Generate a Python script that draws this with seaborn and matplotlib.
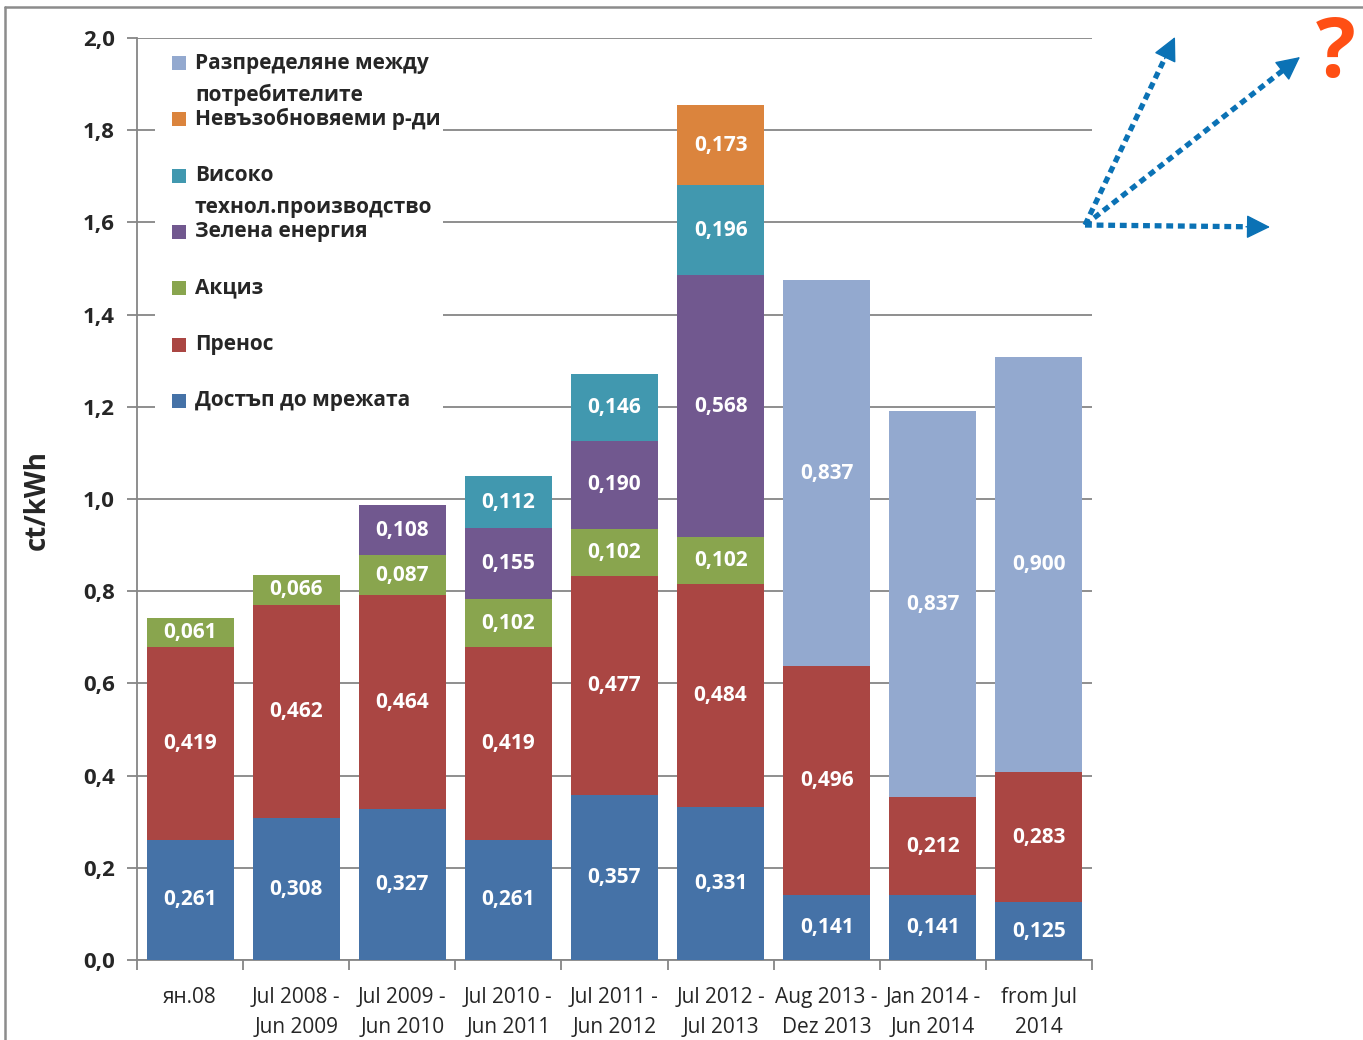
import matplotlib
matplotlib.use("Agg")
import matplotlib.pyplot as plt
from matplotlib.lines import Line2D
from matplotlib.patches import Rectangle
from matplotlib.ticker import FixedLocator, FuncFormatter
import numpy as np
import pandas as pd
import seaborn as sns

# ---- data -------------------------------------------------------------
periods = [
    "ян.08",
    "Jul 2008 -\nJun 2009",
    "Jul 2009 -\nJun 2010",
    "Jul 2010 -\nJun 2011",
    "Jul 2011 -\nJun 2012",
    "Jul 2012 -\nJul 2013",
    "Aug 2013 -\nDez 2013",
    "Jan 2014 -\nJun 2014",
    "from Jul\n2014",
]

grid_access = [0.261, 0.308, 0.327, 0.261, 0.357, 0.331, 0.141, 0.141, 0.125]
transmission = [0.419, 0.462, 0.464, 0.419, 0.477, 0.484, 0.496, 0.212, 0.283]
excise = [0.061, 0.066, 0.087, 0.102, 0.102, 0.102, 0.0, 0.0, 0.0]
green_energy = [0.0, 0.0, 0.108, 0.155, 0.190, 0.568, 0.0, 0.0, 0.0]
high_tech = [0.0, 0.0, 0.0, 0.112, 0.146, 0.196, 0.0, 0.0, 0.0]
non_renewable = [0.0, 0.0, 0.0, 0.0, 0.0, 0.173, 0.0, 0.0, 0.0]
consumer_split = [0.0, 0.0, 0.0, 0.0, 0.0, 0.0, 0.837, 0.837, 0.900]

# stacking order (bottom -> top)
series_names = [
    "Достъп до мрежата",
    "Пренос",
    "Акциз",
    "Зелена енергия",
    "Високо\nтехнол.производство",
    "Невъзобновяеми р-ди",
    "Разпределяне между\nпотребителите",
]
series_values = [grid_access, transmission, excise, green_energy,
                 high_tech, non_renewable, consumer_split]
series_colors = ["#4572A7", "#AA4643", "#89A54E", "#71588F",
                 "#4198AF", "#DB843D", "#93A9CF"]

y_ticks = [0.0, 0.2, 0.4, 0.6, 0.8, 1.0, 1.2, 1.4, 1.6, 1.8, 2.0]

# ---- table -------------------------------------------------------------
df = pd.DataFrame({"period": periods})
cum = np.zeros(len(periods))
cum_cols = []
for k, vals in enumerate(series_values):
    cum = cum + np.array(vals)
    col = f"cum{k}"
    df[col] = cum
    cum_cols.append(col)

# ---- style -------------------------------------------------------------
sns.set_style("white")
plt.rcParams["font.family"] = ["Open Sans", "DejaVu Sans"]

W, H = 1363, 1040
fig = plt.figure(figsize=(W / 100, H / 100), dpi=100)
ax = fig.add_axes([137 / W, 1 - 960 / H, (1092 - 137) / W, (960 - 38) / H])

GRID = "#868686"

# stacked bars: cumulative totals drawn from the top layer down
for col, color in reversed(list(zip(cum_cols, series_colors))):
    sns.barplot(data=df, x="period", y=col, order=periods, color=color,
                saturation=1, width=0.82, errorbar=None, linewidth=0,
                ax=ax, zorder=3)

# value labels
for i in range(len(periods)):
    base = 0.0
    for vals in series_values:
        v = vals[i]
        if v > 0:
            ax.text(i, base + v / 2, f"{v:.3f}".replace(".", ","),
                    ha="center", va="center", color="white",
                    fontsize=15, fontweight="bold", zorder=5)
        base += v

# axes
ax.set_xlim(-0.5, len(periods) - 0.5)
ax.set_ylim(0, 2.0)
ax.set_xlabel("")
ax.set_ylabel("")
for s in ["top", "right"]:
    ax.spines[s].set_visible(False)
for s in ["left", "bottom"]:
    ax.spines[s].set_color(GRID)
    ax.spines[s].set_linewidth(1.3)

ax.yaxis.set_major_locator(FixedLocator(y_ticks))
ax.yaxis.set_major_formatter(FuncFormatter(lambda v, p: f"{v:.1f}".replace(".", ",")))
ax.tick_params(axis="y", which="major", direction="out", length=7, width=1.3,
               color=GRID, pad=9, labelsize=16, left=True)
for lab in ax.get_yticklabels():
    lab.set_fontweight("bold")
ax.yaxis.grid(True, color=GRID, linewidth=1.3, zorder=0)
ax.set_axisbelow(True)

# x: ticks between categories, labels centred on the bars
ax.xaxis.set_major_locator(FixedLocator(np.arange(-0.5, len(periods), 1.0)))
ax.xaxis.set_major_formatter(FuncFormatter(lambda v, p: ""))
ax.xaxis.set_minor_locator(FixedLocator(np.arange(len(periods))))
ax.xaxis.set_minor_formatter(FuncFormatter(lambda v, p: periods[int(round(v))]))
ax.tick_params(axis="x", which="major", direction="out", length=7, width=1.3,
               color=GRID, bottom=True)
ax.tick_params(axis="x", which="minor", length=0, pad=19.5, labelsize=15, bottom=True)
for lab in ax.xaxis.get_minorticklabels():
    lab.set_linespacing(1.58)

fig.text(37 / W, 1 - 500 / H, "ct/kWh", rotation=90, ha="center", va="center",
         fontsize=20, fontweight="bold")

# legend panel (white box over gridlines, one entry every ~56 px)
ax.add_patch(Rectangle((0.019, 0.591), 0.301, 0.398, transform=ax.transAxes,
                       facecolor="white", edgecolor="none", zorder=2))
legend_order = list(range(len(series_names)))[::-1]
for row, k in enumerate(legend_order):
    ypix = 63 + 56.3 * row
    yf = (960 - ypix) / 922
    ax.add_patch(Rectangle((0.0366, yf - 7 / 922), 14 / 955, 14 / 922,
                           transform=ax.transAxes, facecolor=series_colors[k],
                           edgecolor="none", zorder=4))
    for j, line in enumerate(series_names[k].split("\n")):
        ax.text(0.0607, (960 - ypix - 32 * j) / 922, line, transform=ax.transAxes,
                ha="left", va="center", fontsize=15, fontweight="bold", zorder=4)

# outlook arrows
ARROW = "#0B72B5"
start = (1085 / W, 1 - 225 / H)
ends = [(1175, 37), (1300, 57), (1270, 227)]
for ex, ey in ends:
    end = (ex / W, 1 - ey / H)
    dx, dy = end[0] - start[0], end[1] - start[1]
    # pixel-length of the vector, used to stop the dotted shaft before the head
    lx, ly = dx * W, dy * H
    L = np.hypot(lx, ly)
    f = (L - 20) / L
    shaft_end = (start[0] + dx * f, start[1] + dy * f)
    fig.add_artist(Line2D([start[0], shaft_end[0]], [start[1], shaft_end[1]],
                          transform=fig.transFigure, color=ARROW, lw=3.8,
                          linestyle=(0, (1.3, 0.9)), solid_capstyle="butt",
                          dash_capstyle="butt"))
    g = (L - 24) / L
    head_start = (start[0] + dx * g, start[1] + dy * g)
    ax.annotate("", xy=end, xytext=head_start, xycoords="figure fraction",
                textcoords="figure fraction", annotation_clip=False,
                arrowprops=dict(arrowstyle="-|>,head_length=1.5,head_width=0.75",
                                color=ARROW, lw=1, shrinkA=0, shrinkB=0))

fig.text(1336 / W, 1 - 55 / H, "?", ha="center", va="center", fontsize=60,
         fontweight="bold", color="#FF4F14")

# outer frame
fig.add_artist(Line2D([5 / W, 5 / W], [0, 1 - 7 / H], transform=fig.transFigure,
                      color="#8C8C8C", lw=1.8))
fig.add_artist(Line2D([5 / W, 1], [1 - 7 / H, 1 - 7 / H], transform=fig.transFigure,
                      color="#8C8C8C", lw=1.8))

fig.savefig("out.png", dpi=100)
